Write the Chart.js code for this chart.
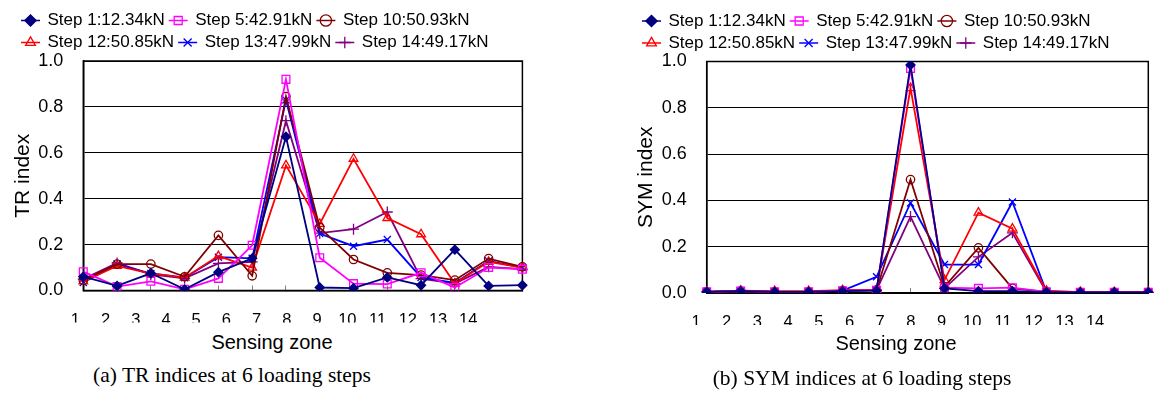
<!DOCTYPE html>
<html>
<head>
<meta charset="utf-8">
<script src="https://cdn.jsdelivr.net/npm/chart.js@4/dist/chart.umd.min.js"></script>
<style>
  body { margin: 0; background: #fff; width: 1167px; height: 396px; position: relative; overflow: hidden; }
  canvas { position: absolute; top: 0; }
  #trChart { left: 0; }
  #symChart { left: 623px; }
  .lbl { position: absolute; transform: translate(-50%, -50%); white-space: nowrap; line-height: 1; color: #000; }
  .axis { font: 20px "Liberation Sans", Arial, sans-serif; }
  .cap { font: 21.5px "Liberation Serif", "Times New Roman", serif; }
</style>
</head>
<body>
<canvas id="trChart" width="560" height="330"></canvas>
<canvas id="symChart" width="544" height="333"></canvas>
<div class="lbl axis" style="left:272px;top:342px">Sensing zone</div>
<div class="lbl axis" style="left:896px;top:343px">Sensing zone</div>
<div class="lbl cap" style="left:232px;top:375px">(a) TR indices at 6 loading steps</div>
<div class="lbl cap" style="left:862px;top:378px">(b) SYM indices at 6 loading steps</div>
<script>
// sensing zones + legend names
const zones = [1, 2, 3, 4, 5, 6, 7, 8, 9, 10, 11, 12, 13, 14];
const stepNames = ['Step 1:12.34kN', 'Step 5:42.91kN', 'Step 10:50.93kN', 'Step 12:50.85kN', 'Step 13:47.99kN', 'Step 14:49.17kN'];
const yTicks = [0, 0.2, 0.4, 0.6, 0.8, 1.0];

// (a) TR index
const trStep1 = [0.06, 0.02, 0.075, 0.005, 0.08, 0.14, 0.67, 0.013, 0.01, 0.057, 0.023, 0.178, 0.02, 0.023];
const trStep5 = [0.082, 0.017, 0.04, 0.005, 0.053, 0.197, 0.92, 0.143, 0.03, 0.028, 0.077, 0.013, 0.1, 0.093];
const trStep10 = [0.045, 0.115, 0.115, 0.06, 0.24, 0.064, 0.845, 0.274, 0.135, 0.077, 0.067, 0.045, 0.139, 0.103];
const trStep12 = [0.04, 0.107, 0.074, 0.056, 0.15, 0.1, 0.545, 0.29, 0.574, 0.316, 0.245, 0.03, 0.125, 0.1];
const trStep13 = [0.035, 0.115, 0.074, 0.056, 0.145, 0.14, 0.83, 0.248, 0.193, 0.222, 0.057, 0.033, 0.129, 0.1];
const trStep14 = [0.05, 0.12, 0.07, 0.053, 0.118, 0.125, 0.74, 0.25, 0.267, 0.342, 0.052, 0.03, 0.103, 0.093];

// (b) SYM index
const symStep1 = [0.005, 0.008, 0.005, 0.005, 0.008, 0.01, 0.985, 0.02, 0.008, 0.008, 0.004, 0.003, 0.003, 0.003];
const symStep5 = [0.005, 0.008, 0.005, 0.005, 0.01, 0.012, 0.97, 0.023, 0.02, 0.023, 0.005, 0.003, 0.003, 0.003];
const symStep10 = [0.005, 0.008, 0.005, 0.005, 0.01, 0.012, 0.49, 0.027, 0.195, 0.02, 0.005, 0.003, 0.003, 0.003];
const symStep12 = [0.005, 0.01, 0.008, 0.008, 0.012, 0.015, 0.885, 0.056, 0.347, 0.278, 0.01, 0.004, 0.003, 0.003];
const symStep13 = [0.005, 0.01, 0.005, 0.005, 0.01, 0.07, 0.389, 0.123, 0.123, 0.393, 0.005, 0.003, 0.003, 0.003];
const symStep14 = [0.005, 0.01, 0.005, 0.005, 0.01, 0.012, 0.33, 0.02, 0.156, 0.26, 0.005, 0.003, 0.003, 0.003];

const looks = [
  { color: '#000080', style: 'rectRot', r: 4.5, filled: true },
  { color: '#FF00FF', style: 'rect', r: 5.5 },
  { color: '#800000', style: 'circle', r: 4.2 },
  { color: '#FF0000', style: 'triangle', r: 5 },
  { color: '#0000FF', style: 'crossRot', r: 5 },
  { color: '#800080', style: 'cross', r: 5.5 }
];

Chart.defaults.font.family = '"Liberation Sans", Arial, sans-serif';
Chart.defaults.color = '#000';

// line through the legend markers, like the original
const legendLines = {
  id: 'legendLines',
  afterDraw(chart) {
    const lg = chart.legend;
    if (!lg || !lg.legendHitBoxes) return;
    const ctx = chart.ctx;
    const fs = lg.options.labels.font.size;
    const bw = Math.min(lg.options.labels.boxWidth, fs);
    ctx.save();
    lg.legendHitBoxes.forEach((hb, i) => {
      const item = lg.legendItems[i];
      const y = hb.top + fs / 2;
      ctx.strokeStyle = looks[item.datasetIndex].color;
      ctx.lineWidth = 1.5;
      ctx.beginPath();
      ctx.moveTo(hb.left - 1, y);
      ctx.lineTo(hb.left + bw + 1, y);
      ctx.stroke();
    });
    ctx.restore();
  }
};

// box round the plot area
const frame = {
  id: 'frame',
  beforeDatasetsDraw(chart) {
    const a = chart.chartArea, ctx = chart.ctx;
    ctx.save();
    ctx.strokeStyle = '#000';
    ctx.lineWidth = 1.5;
    ctx.strokeRect(a.left, a.top, a.right - a.left, a.bottom - a.top);
    ctx.restore();
  }
};

function makeChart(id, yTitle, series, cfg) {
  new Chart(document.getElementById(id), {
    type: 'line',
    data: {
      labels: zones,
      datasets: series.map((vals, i) => ({
        label: stepNames[i],
        data: vals,
        borderColor: looks[i].color,
        backgroundColor: looks[i].color,
        borderWidth: 1.8,
        tension: 0,
        fill: false,
        pointStyle: looks[i].style,
        pointRadius: looks[i].r,
        pointBorderColor: looks[i].color,
        pointBackgroundColor: looks[i].filled ? looks[i].color : 'rgba(0,0,0,0)',
        pointBorderWidth: 1.3
      }))
    },
    options: {
      responsive: false,
      animation: false,
      layout: { padding: cfg.pad },
      plugins: {
        tooltip: { enabled: false },
        legend: {
          position: 'top',
          align: 'start',
          labels: { usePointStyle: true, boxWidth: 17, boxHeight: 8, padding: 5, color: '#000', font: { size: 17 } }
        }
      },
      scales: {
        x: {
          type: 'category',
          offset: false,
          afterFit: s => { s.height = 0; },
          ticks: { display: false },
          grid: { drawOnChartArea: false, drawTicks: true, tickLength: -5, color: '#808080' },
          border: { display: true, color: '#000', width: 1.5 }
        },
        // labels of the zones, placed like in the original figure
        x2: {
          type: 'linear',
          position: 'bottom',
          min: cfg.labMin,
          max: cfg.labMax,
          afterBuildTicks: s => { s.ticks = zones.map(v => ({ value: v })); },
          afterFit: s => { s.paddingLeft = 0; s.paddingRight = 0; s.height = 32; },
          ticks: { autoSkip: false, maxRotation: 0, padding: 20, color: '#000', font: { size: 16.5 } },
          grid: { display: false, drawTicks: false },
          border: { display: false }
        },
        y: {
          min: 0,
          max: 1,
          afterFit: s => { s.width = cfg.yWidth; },
          afterBuildTicks: s => { s.ticks = yTicks.map(v => ({ value: v })); },
          ticks: { callback: v => v.toFixed(1), color: '#000', font: { size: 18 }, padding: 20 },
          grid: { color: '#000', lineWidth: 1, drawTicks: false },
          border: { color: '#000', width: 1.5 },
          title: { display: true, text: yTitle, color: '#000', font: { size: 21 }, padding: { top: cfg.titleTop, bottom: 0 } }
        }
      }
    },
    plugins: [frame, legendLines]
  });
}

makeChart('trChart', 'TR index',
  [trStep1, trStep5, trStep10, trStep12, trStep13, trStep14],
  { pad: { left: 17, right: 37.6, top: 7, bottom: 7.5 }, yWidth: 66.3, titleTop: -6.1, labMin: 1.265, labMax: 15.79 });

makeChart('symChart', 'SYM index',
  [symStep1, symStep5, symStep10, symStep12, symStep13, symStep14],
  { pad: { left: 15, right: 18.7, top: 7.5, bottom: 8 }, yWidth: 68.7, titleTop: -4.6, labMin: 1.349, labMax: 15.733 });
</script>
</body>
</html>
